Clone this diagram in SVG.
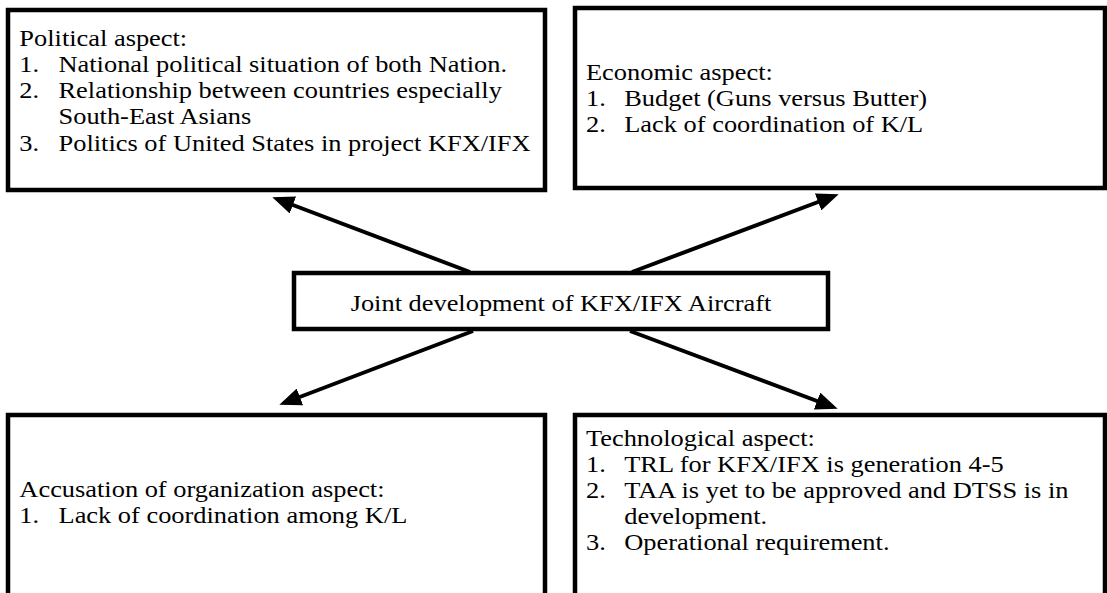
<svg xmlns="http://www.w3.org/2000/svg" width="1107" height="593" viewBox="0 0 1107 593">
<style>
.box{fill:#fff;stroke:#000;stroke-width:4.5}
.t{font-family:"Liberation Serif","Times New Roman",serif;font-size:24px;fill:#000}
.c{stroke:#000;stroke-width:4;fill:none}
</style>
<defs>
<marker id="ah" markerUnits="userSpaceOnUse" markerWidth="22" markerHeight="18" viewBox="0 0 22 18" refX="17" refY="9" orient="auto">
<path d="M0,0 L22,9 L0,18 z" fill="#000"/>
</marker>
</defs>
<rect width="1107" height="593" fill="#fff"/>
<g id="political">
<rect class="box" x="8" y="10" width="537" height="180"/>
<g transform="scale(1.1,1)">
<text class="t" x="17.6" y="46">Political aspect:</text>
<text class="t" x="17.6" y="72">1.</text><text class="t" x="53.2" y="72">National political situation of both Nation.</text>
<text class="t" x="17.6" y="98">2.</text><text class="t" x="53.2" y="98">Relationship between countries especially</text>
<text class="t" x="53.2" y="124">South-East Asians</text>
<text class="t" x="17.6" y="151">3.</text><text class="t" x="53.2" y="151">Politics of United States in project KFX/IFX</text>
</g>
</g>
<g id="economic">
<rect class="box" x="575" y="8" width="530" height="180"/>
<g transform="scale(1.1,1)">
<text class="t" x="532.7" y="80">Economic aspect:</text>
<text class="t" x="532.7" y="106">1.</text><text class="t" x="567.5" y="106">Budget (Guns versus Butter)</text>
<text class="t" x="532.7" y="132">2.</text><text class="t" x="567.5" y="132">Lack of coordination of K/L</text>
</g>
</g>
<g id="center">
<rect class="box" x="294" y="273" width="534" height="56"/>
<g transform="scale(1.1,1)">
<text class="t" x="510" y="311" text-anchor="middle">Joint development of KFX/IFX Aircraft</text>
</g>
</g>
<g id="organization">
<rect class="box" x="8" y="415" width="537" height="200"/>
<g transform="scale(1.1,1)">
<text class="t" x="17.6" y="497">Accusation of organization aspect:</text>
<text class="t" x="17.6" y="523">1.</text><text class="t" x="53.2" y="523">Lack of coordination among K/L</text>
</g>
</g>
<g id="technological">
<rect class="box" x="575" y="415" width="530" height="200"/>
<g transform="scale(1.1,1)">
<text class="t" x="532.7" y="446">Technological aspect:</text>
<text class="t" x="532.7" y="472">1.</text><text class="t" x="567.5" y="472">TRL for KFX/IFX is generation 4-5</text>
<text class="t" x="532.7" y="498">2.</text><text class="t" x="567.5" y="498">TAA is yet to be approved and DTSS is in</text>
<text class="t" x="567.5" y="524">development.</text>
<text class="t" x="532.7" y="550">3.</text><text class="t" x="567.5" y="550">Operational requirement.</text>
</g>
</g>
<g id="connectors">
<line class="c" x1="470" y1="272" x2="277" y2="199" marker-end="url(#ah)"/>
<line class="c" x1="632" y1="272" x2="834" y2="196" marker-end="url(#ah)"/>
<line class="c" x1="473" y1="331" x2="284" y2="403" marker-end="url(#ah)"/>
<line class="c" x1="630" y1="331" x2="833" y2="407" marker-end="url(#ah)"/>
</g>
</svg>
